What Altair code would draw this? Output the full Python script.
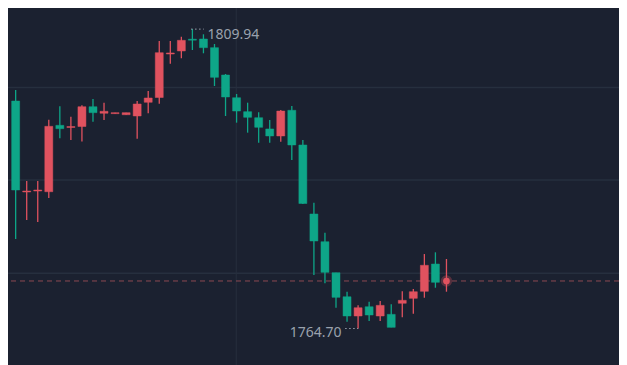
import altair as alt
import pandas as pd

# ---- data ----
opens  = [1799.06, 1785.32, 1785.47, 1785.36, 1795.39, 1795.06, 1795.21, 1798.20, 1797.21, 1797.15,
          1796.99, 1796.80, 1798.87, 1799.59, 1806.16, 1806.62, 1808.40, 1808.43, 1807.12, 1802.99,
          1799.56, 1797.45, 1796.54, 1794.84, 1793.78, 1797.66, 1792.42, 1782.00, 1777.81, 1773.13,
          1769.50, 1766.59, 1767.99, 1766.59, 1766.84, 1768.51, 1769.26, 1770.32, 1774.44, 1771.68]
highs  = [1800.73, 1786.98, 1786.98, 1796.24, 1798.26, 1796.69, 1798.41, 1799.37, 1798.81, 1797.30,
          1797.30, 1799.06, 1800.58, 1808.13, 1808.13, 1808.78, 1809.94, 1809.14, 1807.67, 1803.14,
          1800.12, 1798.81, 1797.36, 1796.19, 1797.71, 1798.31, 1793.17, 1783.70, 1779.17, 1773.13,
          1770.26, 1768.20, 1768.75, 1768.85, 1768.36, 1770.32, 1770.67, 1775.95, 1776.21, 1775.20]
lows   = [1778.22, 1781.09, 1780.79, 1784.41, 1793.43, 1793.17, 1792.95, 1795.94, 1796.19, 1797.15,
          1796.99, 1793.37, 1797.21, 1798.66, 1804.70, 1805.51, 1806.77, 1806.27, 1801.33, 1796.80,
          1795.79, 1794.28, 1792.77, 1792.77, 1792.92, 1790.15, 1783.51, 1772.78, 1771.53, 1767.84,
          1765.73, 1764.70, 1765.83, 1765.83, 1764.88, 1766.39, 1766.94, 1769.35, 1770.86, 1770.26]
closes = [1785.62, 1785.47, 1785.62, 1795.24, 1794.88, 1795.21, 1798.20, 1797.30, 1797.51, 1797.30,
          1797.30, 1798.61, 1799.52, 1806.36, 1806.32, 1808.23, 1808.25, 1807.12, 1802.64, 1799.67,
          1797.55, 1796.60, 1795.09, 1793.78, 1797.55, 1792.42, 1783.58, 1777.92, 1773.19, 1769.41,
          1766.59, 1767.84, 1766.74, 1768.20, 1764.88, 1768.96, 1770.26, 1774.25, 1771.68, 1771.88]

high_label = "1809.94"
low_label = "1764.70"
high_value = 1809.94
low_value = 1764.70
high_index = 16
low_index = 31
last_price = 1771.88
grid_prices = [1801.10, 1787.13, 1773.04]
grid_index = [19.97]

# ---- styling ----
RED = "#e0525f"
GREEN = "#0ea688"
BG = "#1b2130"
GRID = "#262f3e"
LABEL = "#9aa1ad"

n = len(opens)
df = pd.DataFrame({"i": list(range(n)), "open": opens, "high": highs,
                   "low": lows, "close": closes})
df["dir"] = ["up" if c >= o else "down" for o, c in zip(opens, closes)]
body_df = df.iloc[:-1]
last_df = df.iloc[-1:]

xscale = alt.Scale(domain=[-0.2404, 54.167], nice=False, zero=False)
yscale = alt.Scale(domain=[1759.19, 1813.11], nice=False, zero=False)
color = alt.Color("dir:N", scale=alt.Scale(domain=["up", "down"], range=[RED, GREEN]), legend=None)

X = lambda f: alt.X(f, type="quantitative", scale=xscale, axis=None)
Y = lambda f: alt.Y(f, type="quantitative", scale=yscale, axis=None)

hgrid = alt.Chart(pd.DataFrame({"p": grid_prices})).mark_rule(
    color=GRID, strokeWidth=1.5).encode(y=Y("p"))
vgrid = alt.Chart(pd.DataFrame({"i": grid_index})).mark_rule(
    color=GRID, strokeWidth=1).encode(x=X("i"))

price_line = alt.Chart(pd.DataFrame({"p": [last_price]})).mark_rule(
    color="#8c4852", strokeWidth=1, strokeDash=[5, 4]).encode(y=Y("p"))

wicks = alt.Chart(df).mark_rule(strokeWidth=1.3).encode(
    x=X("i"), y=Y("low"), y2="high:Q", color=color)
bodies = alt.Chart(body_df).mark_bar(size=8, strokeWidth=0.8, strokeOpacity=0.6).encode(
    x=X("i"), y=Y("open"), y2="close:Q", color=color, stroke=color)

glow = alt.Chart(last_df).mark_point(filled=True, shape="circle", size=130, opacity=0.3,
                                     color=RED).encode(x=X("i"), y=Y("close"))
dot = alt.Chart(last_df).mark_point(filled=True, shape="circle", size=45, opacity=1,
                                    color=RED).encode(x=X("i"), y=Y("close"))

lab_df = pd.DataFrame({
    "i0": [high_index - 0.12, low_index - 1.17],
    "i1": [high_index + 1.03, low_index + 0.01],
    "p": [high_value - 0.02, low_value],
})
leaders = alt.Chart(lab_df).mark_rule(color=LABEL, strokeWidth=1, strokeDash=[1.5, 2.5]).encode(
    x=X("i0"), x2="i1:Q", y=Y("p"))

hi_text = alt.Chart(pd.DataFrame({"i": [high_index + 1.36], "p": [high_value - 0.91],
                                  "t": [high_label]})).mark_text(
    align="left", baseline="middle", fontSize=14, font="Noto Sans", color=LABEL).encode(
    x=X("i"), y=Y("p"), text="t:N")
lo_text = alt.Chart(pd.DataFrame({"i": [low_index - 1.5], "p": [low_value - 0.72],
                                  "t": [low_label]})).mark_text(
    align="right", baseline="middle", fontSize=14, font="Noto Sans", color=LABEL).encode(
    x=X("i"), y=Y("p"), text="t:N")

chart = alt.layer(hgrid, vgrid, price_line, wicks, bodies, glow, dot, leaders, hi_text, lo_text).properties(
    width=611, height=357, background=BG, padding=0, autosize="none"
).configure_view(stroke=None)

chart.save("out.html", embed_options={"renderer": "svg", "actions": False})
